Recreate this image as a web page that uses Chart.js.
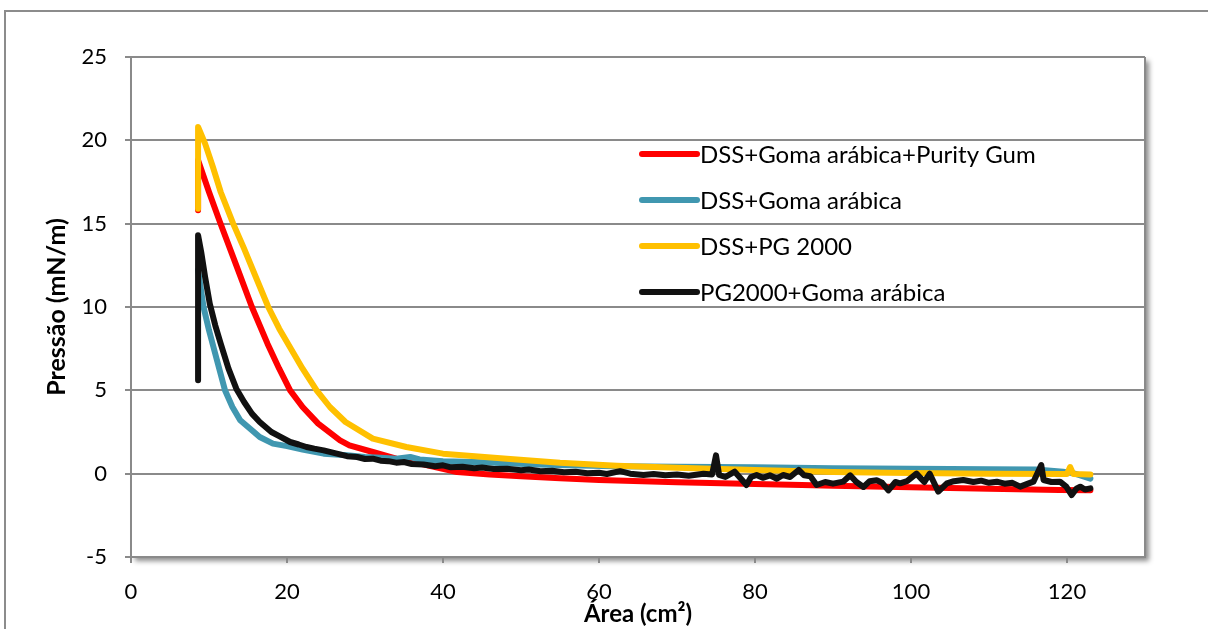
<!DOCTYPE html>
<html>
<head>
<meta charset="utf-8">
<script src="https://cdn.jsdelivr.net/npm/chart.js@4.4.0/dist/chart.umd.min.js"></script>
<style>
  html, body { margin: 0; padding: 0; background: #fff; }
  #wrap { width: 1208px; height: 629px; }
</style>
</head>
<body>
<div id="wrap"><canvas id="grafico" width="1208" height="629"></canvas></div>
<script>
// Área (cm²) e Pressão (mN/m)
const areaRed = [8.6, 8.6, 10, 11.4, 13.5, 15.5, 17.5, 19, 20.4, 22, 24, 26.8, 28, 31, 34, 37, 41.8, 46, 50, 55, 60, 70, 80, 86, 90, 100, 110, 119, 123];
const pressaoRed = [15.8, 18.8, 16.9, 15.1, 12.5, 10.0, 7.8, 6.3, 5.0, 4.0, 3.0, 2.0, 1.7, 1.3, 0.9, 0.6, 0.1, -0.05, -0.15, -0.28, -0.38, -0.52, -0.62, -0.68, -0.72, -0.82, -0.9, -0.98, -1.0];

const areaBlue = [8.6, 9.3, 10, 10.8, 12.05, 13, 14, 15.5, 16.5, 18.2, 20, 22, 24.7, 27.7, 30, 32, 34, 35.8, 37, 40, 44, 48.2, 52, 56, 62, 70, 80, 90, 100, 110, 116, 119.5, 121, 123];
const pressaoBlue = [12.2, 10.0, 8.6, 7.2, 5.0, 4.0, 3.2, 2.6, 2.2, 1.8, 1.65, 1.45, 1.2, 1.1, 1.0, 0.95, 0.9, 1.0, 0.85, 0.75, 0.7, 0.62, 0.55, 0.5, 0.44, 0.42, 0.38, 0.33, 0.3, 0.27, 0.25, 0.12, 0.0, -0.3];

const areaYellow = [8.6, 8.6, 9.5, 10.5, 11.5, 13.1, 14.5, 16, 17.6, 19, 20.5, 22, 23.8, 25.5, 27.5, 31, 35.3, 40, 48.2, 55, 62.3, 70, 80, 90, 97, 110, 120, 120.4, 120.8, 123];
const pressaoYellow = [15.9, 20.8, 19.8, 18.4, 16.9, 15.0, 13.5, 11.8, 10.0, 8.7, 7.5, 6.3, 5.0, 4.0, 3.1, 2.1, 1.6, 1.2, 0.9, 0.65, 0.48, 0.35, 0.22, 0.1, 0.05, 0.0, -0.02, 0.4, -0.02, -0.05];

const areaBlack = [8.6, 8.6, 9.0, 9.5, 10.1, 10.8, 11.5, 12.5, 13.5, 14.5, 15.5, 16.5, 18, 19, 20.4, 21.5, 22.5, 23.5, 24.7, 26, 27.7, 29, 30, 31, 32, 33, 34, 35, 36, 37.5, 39, 40, 41, 42.5, 44, 45, 46.5, 48.2, 50, 51, 52.5, 54, 55.5, 57, 58.5, 60, 61, 62.7, 64, 65.7, 67, 68.5, 70, 71.5, 73.4, 74.5, 75, 75.4, 76.2, 77.4, 78.2, 78.9, 79.5, 80.2, 81, 81.9, 82.8, 83.6, 84.5, 85.6, 86.3, 87.1, 87.9, 89, 90, 91.3, 92.2, 93, 93.9, 94.7, 95.6, 96.3, 97.1, 98, 98.6, 99.5, 100.7, 101.7, 102.4, 103.5, 104.6, 105.5, 106.7, 108, 109, 110, 111, 112, 113, 114, 115, 115.7, 116.7, 117, 118, 119.1, 119.9, 120.6, 121.2, 121.7, 122.3, 123];
const pressaoBlack = [5.6, 14.3, 13.3, 11.8, 10.2, 8.9, 7.8, 6.3, 5.1, 4.3, 3.6, 3.1, 2.5, 2.25, 1.9, 1.75, 1.6, 1.5, 1.4, 1.25, 1.05, 1.0, 0.88, 0.9, 0.78, 0.75, 0.66, 0.7, 0.58, 0.55, 0.45, 0.5, 0.38, 0.42, 0.33, 0.37, 0.28, 0.3, 0.2, 0.25, 0.15, 0.18, 0.08, 0.12, 0.02, 0.05, -0.02, 0.15, 0.0, -0.08, -0.02, -0.1, -0.05, -0.12, 0.0, -0.05, 1.1, -0.08, -0.2, 0.12, -0.3, -0.68, -0.2, -0.08, -0.25, -0.1, -0.3, -0.08, -0.2, 0.22, -0.1, -0.15, -0.68, -0.5, -0.6, -0.48, -0.1, -0.5, -0.8, -0.45, -0.4, -0.55, -1.0, -0.5, -0.58, -0.45, 0.0, -0.5, 0.0, -1.08, -0.58, -0.45, -0.38, -0.5, -0.42, -0.55, -0.48, -0.6, -0.55, -0.78, -0.6, -0.48, 0.52, -0.38, -0.5, -0.48, -0.78, -1.28, -0.9, -0.78, -0.95, -0.88];

const nomesSeries = ["DSS+Goma arábica+Purity Gum", "DSS+Goma arábica", "DSS+PG 2000", "PG2000+Goma arábica"];
const coresSeries = ["#ff0000", "#4097b0", "#ffc000", "#111111"];

const eixoXTicks = [0, 20, 40, 60, 80, 100, 120];
const eixoYTicks = [-5, 0, 5, 10, 15, 20, 25];

function pares(xs, ys) {
  return xs.map((x, i) => ({ x: x, y: ys[i] }));
}

const seriesDados = [
  pares(areaRed, pressaoRed),
  pares(areaBlue, pressaoBlue),
  pares(areaYellow, pressaoYellow),
  pares(areaBlack, pressaoBlack)
];

const corGrade = '#8a8a8a';

// fundo, moldura externa e sombra da área de plotagem
const molduraPlugin = {
  id: 'moldura',
  beforeDraw(chart) {
    const ctx = chart.ctx;
    const a = chart.chartArea;
    ctx.save();
    ctx.fillStyle = '#fff';
    ctx.fillRect(0, 0, chart.width, chart.height);
    ctx.strokeStyle = '#8c8c8c';
    ctx.lineWidth = 2;
    ctx.beginPath();
    ctx.moveTo(5, chart.height + 5);
    ctx.lineTo(5, 11);
    ctx.lineTo(chart.width + 5, 11);
    ctx.stroke();
    ctx.shadowColor = 'rgba(0,0,0,0.45)';
    ctx.shadowBlur = 5;
    ctx.shadowOffsetX = 4;
    ctx.shadowOffsetY = 4;
    ctx.fillStyle = '#fff';
    ctx.fillRect(a.left, a.top, a.right - a.left, a.bottom - a.top);
    ctx.restore();
  },
  afterDatasetsDraw(chart) {
    const ctx = chart.ctx;
    const a = chart.chartArea;
    ctx.save();
    ctx.strokeStyle = corGrade;
    ctx.lineWidth = 2;
    ctx.beginPath();
    ctx.moveTo(a.right, a.top);
    ctx.lineTo(a.right, a.bottom);
    ctx.stroke();
    ctx.restore();
  }
};

// legenda dentro da área do gráfico
const legendaPlugin = {
  id: 'legenda',
  afterDraw(chart) {
    const ctx = chart.ctx;
    const a = chart.chartArea;
    const x0 = a.left + 511;
    let y = a.top + 97;
    ctx.save();
    ctx.font = '24px Lato';
    ctx.textBaseline = 'middle';
    ctx.textAlign = 'left';
    chart.data.datasets.forEach(ds => {
      ctx.strokeStyle = ds.borderColor;
      ctx.lineWidth = 6;
      ctx.lineCap = 'round';
      ctx.beginPath();
      ctx.moveTo(x0, y);
      ctx.lineTo(x0 + 55, y);
      ctx.stroke();
      ctx.fillStyle = '#000';
      ctx.fillText(ds.label, x0 + 58, y + 1);
      y += 46;
    });
    ctx.restore();
  }
};

const ctx = document.getElementById('grafico').getContext('2d');
new Chart(ctx, {
  type: 'scatter',
  data: {
    datasets: seriesDados.map((pts, i) => ({
      label: nomesSeries[i],
      data: pts,
      showLine: true,
      borderColor: coresSeries[i],
      backgroundColor: coresSeries[i],
      borderWidth: 6,
      pointRadius: 0,
      tension: 0,
      borderJoinStyle: 'round',
      borderCapStyle: 'round',
      order: 4 - i
    }))
  },
  options: {
    responsive: false,
    animation: false,
    devicePixelRatio: 1,
    layout: { padding: { left: 40, top: 57, right: 63, bottom: 0 } },
    plugins: {
      legend: { display: false },
      tooltip: { enabled: false }
    },
    scales: {
      x: {
        type: 'linear',
        min: 0,
        max: 130,
        afterFit: s => { s.height = 72; },
        afterBuildTicks: s => { s.ticks = eixoXTicks.map(v => ({ value: v })); },
        ticks: { font: { family: 'Lato', size: 22 }, color: '#000', padding: 16, maxRotation: 0 },
        grid: { drawOnChartArea: false, color: corGrade, lineWidth: 2, tickLength: 6 },
        border: { color: corGrade, width: 2 },
        title: { display: true, text: 'Área (cm²)', font: { family: 'Lato', size: 24, weight: 'bold' }, color: '#000', padding: { top: 0, bottom: 0 } }
      },
      y: {
        type: 'linear',
        min: -5,
        max: 25,
        afterFit: s => { s.width = 91; },
        afterBuildTicks: s => { s.ticks = eixoYTicks.map(v => ({ value: v })); },
        ticks: { font: { family: 'Lato', size: 22 }, color: '#000', padding: 18 },
        grid: { color: corGrade, lineWidth: 2, tickLength: 6 },
        border: { color: corGrade, width: 2 },
        title: { display: true, text: 'Pressão (mN/m)', font: { family: 'Lato', size: 25, weight: 'bold' }, color: '#000', padding: { top: 2, bottom: 0 } }
      }
    }
  },
  plugins: [molduraPlugin, legendaPlugin]
});
</script>
</body>
</html>
